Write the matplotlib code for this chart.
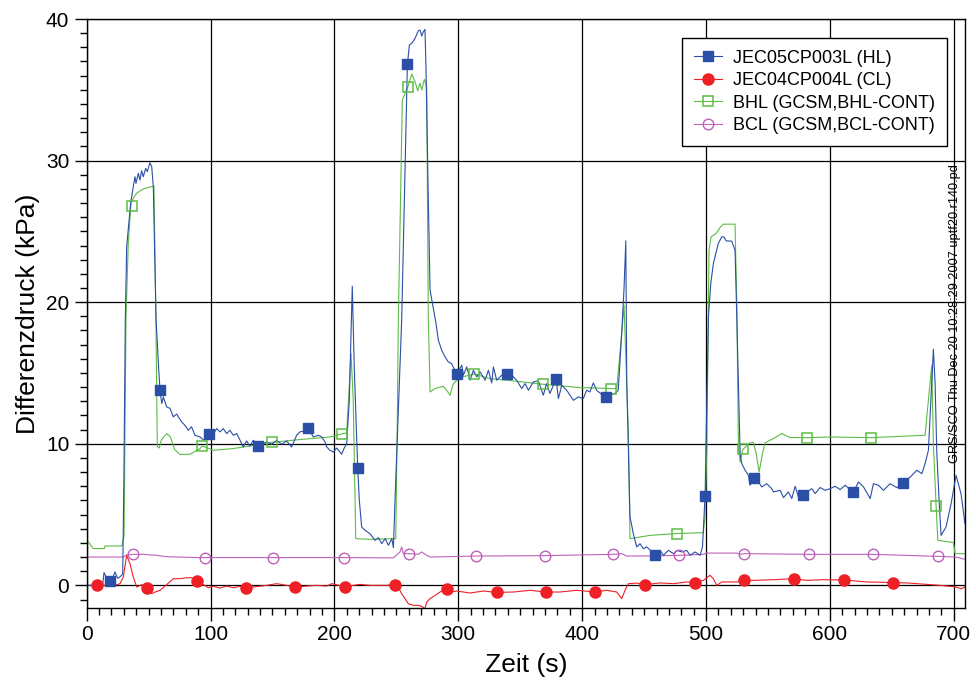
import matplotlib
matplotlib.use("Agg")
import matplotlib.pyplot as plt
from matplotlib.lines import Line2D
from matplotlib.ticker import MultipleLocator

plt.rcParams['font.family'] = ['Liberation Sans', 'DejaVu Sans']

# JEC05CP003L (HL) - blue
hl_t = [0, 12.9, 14.0, 16.6, 18.8, 21.0, 22.8, 25.0, 26.9, 29.1, 30.1, 31.2, 32.3, 35.5, 37.6, 39.0,
        39.8, 41.7, 43.0, 44.4, 45.7, 47.6, 48.9, 51.1, 52.5, 53.8, 54.6, 56.0, 58.0, 59.2, 60.6, 61.9,
        64.6, 67.3, 69.9, 72.6, 76.7, 79.4, 82.0, 84.7, 87.4, 91.5, 94.7, 96.5, 98.7, 101.5, 105.0,
        107.6, 110.3, 113.0, 115.7, 118.4, 121.1, 123.8, 126.4, 129.1, 131.8, 134.5, 138.5, 142.6,
        145.3, 149.3, 153.4, 157.4, 161.4, 165.5, 169.5, 172.2, 175.5, 178.9, 183.0, 187.0, 189.5,
        192.4, 193.8, 196.4, 199.1, 201.8, 204.5, 205.8, 207.7, 209.9, 212.0, 214.4, 216.0, 218.8,
        220.1, 222.0, 224.7, 228.7, 232.8, 235.5, 238.2, 240.9, 243.6, 246.3, 247.6, 248.9, 254.3,
        258.9, 260.5, 262.4, 265.1, 267.7, 269.1, 270.5, 271.8, 273.1, 273.9, 275.8, 277.2, 282.0,
        283.9, 286.6, 289.3, 291.9, 294.6, 296.5, 298.7, 302.8, 304.1, 306.8, 309.5, 312.2, 314.9,
        317.5, 321.6, 324.3, 327.0, 328.3, 331.0, 335.0, 339.1, 343.1, 347.1, 351.2, 353.9, 356.6,
        360.6, 364.6, 368.6, 371.3, 374.0, 378.9, 380.8, 383.5, 387.5, 390.2, 392.9, 396.9, 400.9,
        403.6, 406.3, 409.0, 411.7, 415.5, 419.0, 422.4, 426.4, 429.1, 431.9, 433.8, 435.2, 436.0,
        438.6, 441.3, 444.0, 446.7, 449.4, 452.1, 455.5, 458.8, 462.9, 465.6, 469.6, 473.7, 476.4,
        480.4, 484.4, 487.1, 491.2, 495.2, 497.1, 499.2, 501.9, 503.8, 505.9, 509.9, 512.7, 514.5,
        516.2, 520.7, 523.4, 524.8, 527.5, 528.8, 531.5, 534.2, 535.5, 539.0, 542.3, 545.0, 549.0,
        553.0, 554.4, 559.8, 562.5, 566.5, 569.2, 571.9, 574.6, 578.6, 581.3, 585.4, 588.1, 592.1,
        596.1, 600.2, 604.2, 608.2, 612.3, 618.9, 623.0, 627.1, 632.5, 635.1, 639.2, 643.2, 648.6,
        654.0, 659.3, 664.8, 670.2, 674.2, 676.8, 679.5, 680.8, 683.5, 684.9, 686.2, 688.1, 689.7,
        693.7, 697.8, 701.8, 705.8, 709.0]
hl_v = [0.0, 0.0, 0.9, 0.45, 0.3, 0.5, 0.95, 0.5, 0.6, 0.8, 8.0, 18.8, 23.9, 27.0, 28.15, 28.86,
        28.39, 29.1, 28.63, 29.29, 28.86, 29.45, 29.22, 29.85, 29.57, 28.15, 24.85, 18.8, 15.5, 13.8,
        12.84, 13.3, 12.6, 12.5, 11.9, 12.1, 11.54, 11.3, 10.95, 11.2, 10.6, 10.48, 10.25, 10.6, 10.7,
        10.6, 11.07, 10.84, 11.07, 10.72, 10.95, 10.6, 10.72, 10.25, 9.77, 10.2, 9.82, 10.25, 9.86,
        10.01, 10.13, 9.96, 10.25, 9.96, 10.2, 9.77, 10.6, 10.84, 10.9, 11.1, 10.48, 10.6, 10.5,
        10.13, 9.77, 9.54, 9.42, 9.7, 9.42, 9.26, 9.66, 10.01, 13.07, 21.13, 15.43, 8.26,
        6.0, 4.12, 3.89, 3.65, 3.18, 3.37, 2.94, 3.3, 2.83, 3.3, 2.66, 6.0, 18.75,
        36.8, 38.16, 38.28, 38.64, 39.17, 39.22, 38.8, 39.1, 39.27, 36.63, 27.2, 20.85, 18.5,
        17.31, 16.61, 16.13, 15.78, 15.66, 15.31, 14.93, 15.55, 14.84, 15.43, 14.49, 15.19, 14.72,
        15.08, 14.49, 15.19, 14.3, 15.43, 14.49, 14.84, 14.93, 14.84, 14.49, 13.9, 14.25, 13.78,
        14.37, 14.44, 13.43, 14.25, 13.55, 14.6, 13.19, 14.13, 13.78, 13.43, 13.07, 13.31, 13.19,
        13.78, 13.66, 14.3, 13.78, 13.5, 13.31, 13.43, 13.55, 13.78, 17.79, 21.0, 24.33, 14.25,
        4.83, 3.65, 2.71, 2.94, 2.59, 2.71, 2.45, 2.17, 2.47, 2.12, 2.47, 2.24, 2.47,
        2.36, 2.47, 2.12, 2.36, 2.12, 2.71, 6.3, 18.96, 21.32, 22.73, 24.15, 24.62, 24.6,
        24.33, 24.31, 23.67, 18.96, 9.31, 8.6, 8.13, 7.77, 7.07, 7.55, 7.3, 6.95, 7.18,
        6.83, 6.6, 6.71, 6.2, 6.6, 6.13, 7.0, 6.24, 6.37, 6.6, 6.83, 6.48, 6.91,
        6.71, 6.83, 7.0, 6.76, 7.07, 6.58, 7.3, 6.95, 6.13, 7.18, 7.07, 6.71, 7.18,
        6.9, 7.24, 7.65, 8.13, 7.89, 8.6, 9.54, 11.9, 16.68, 14.25, 9.54, 6.0, 3.53,
        4.12, 5.77, 7.77, 6.48, 4.36]
hl_mx = [18.8, 59.2, 98.7, 138.5, 178.9, 218.8, 258.9, 298.7, 339.1, 378.9, 419.0, 458.8, 499.2,
         539.0, 578.6, 618.9, 659.3]
hl_my = [0.3, 13.8, 10.7, 9.86, 11.1, 8.26, 36.8, 14.93, 14.93, 14.6, 13.31, 2.17, 6.3, 7.55,
         6.37, 6.58, 7.24]

# JEC04CP004L (CL) - red
cl_t = [0, 8.6, 22.8, 26.9, 29.6, 32.3, 35.0, 37.6, 40.4, 44.4, 48.4, 52.5, 55.2, 59.2, 64.6, 69.9,
        75.3, 80.6, 84.7, 88.8, 91.5, 95.5, 98.2, 102.2, 107.6, 113.0, 118.4, 123.8, 128.6, 134.5,
        145.3, 153.4, 161.4, 168.4, 177.6, 185.6, 193.8, 197.8, 208.5, 215.2, 220.6, 228.7, 242.2,
        248.9, 251.6, 254.3, 257.0, 259.7, 263.7, 267.7, 270.4, 273.1, 274.5, 277.2, 281.2, 285.2,
        287.9, 290.9, 294.6, 298.7, 309.5, 320.2, 331.0, 344.5, 357.9, 370.8, 382.1, 395.6, 410.6,
        419.8, 427.9, 431.9, 434.6, 437.3, 444.0, 450.8, 462.9, 473.7, 484.4, 491.1, 497.8, 503.2,
        505.9, 508.6, 512.7, 519.4, 524.8, 530.9, 538.2, 554.4, 570.8, 581.3, 594.8, 611.2, 629.8,
        651.2, 662.1, 689.0, 701.8, 705.8, 709.0]
cl_v = [0.0, 0.0, 0.0, 0.12, 0.59, 2.12, 1.53, 0.59, -0.12, 0.05, -0.2, -0.59, -0.47, -0.35, 0.05,
        0.47, 0.47, 0.54, 0.54, 0.28, 0.12, 0.0, -0.17, -0.07, -0.19, -0.05, -0.17, -0.07, -0.2,
        -0.12, 0.0, 0.12, 0.0, -0.15, -0.05, 0.0, -0.05, 0.12, -0.1, 0.0, 0.07, 0.0, 0.0,
        0.05, -0.17, -0.59, -0.94, -1.3, -1.41, -1.41, -1.48, -1.65, -1.18, -0.94, -0.71, -0.47,
        -0.35, -0.24, -0.47, -0.4, -0.54, -0.4, -0.5, -0.47, -0.35, -0.47, -0.47, -0.35, -0.47,
        -0.35, -0.47, -0.94, -0.35, 0.12, 0.16, 0.05, 0.17, 0.12, 0.24, 0.2, 0.35, 0.71,
        0.47, 0.0, 0.24, 0.24, 0.24, 0.35, 0.35, 0.4, 0.47, 0.35, 0.4, 0.38, 0.24,
        0.2, 0.17, 0.0, -0.12, -0.24, -0.12]
cl_mx = [8.6, 48.4, 88.8, 128.6, 168.4, 208.5, 248.9, 290.9, 331.0, 370.8, 410.6, 450.8, 491.1,
         530.9, 570.8, 611.2, 651.2]
cl_my = [0.0, -0.2, 0.28, -0.2, -0.15, -0.1, 0.05, -0.24, -0.5, -0.47, -0.47, 0.05, 0.2, 0.35,
         0.47, 0.38, 0.2]

# BHL (GCSM,BHL-CONT) - green
bhl_t = [0, 5.3, 14.2, 14.8, 28.3, 30.2, 31.7, 33.6, 35.8, 38.0, 40.4, 45.7, 54.3, 55.9, 57.0,
         58.5, 60.5, 64.6, 67.5, 71.0, 75.3, 83.4, 91.5, 93.3, 102.2, 118.4, 134.5, 149.4, 172.2,
         196.4, 206.4, 209.9, 213.4, 215.2, 217.2, 228.7, 249.5, 250.8, 251.6, 254.8, 259.2, 261.0,
         262.4, 265.1, 267.2, 269.1, 270.5, 272.6, 274.5, 275.8, 277.2, 281.2, 287.9, 290.6, 293.3,
         296.0, 301.4, 313.0, 325.6, 339.1, 368.6, 398.3, 423.3, 427.9, 431.9, 433.8, 437.3, 438.6,
         454.8, 476.6, 497.8, 499.2, 500.6, 502.4, 504.0, 508.6, 511.3, 514.0, 523.4, 524.8, 526.1,
         527.5, 529.6, 535.5, 538.2, 540.5, 542.8, 545.5, 547.6, 554.3, 561.1, 567.8, 581.3, 600.1,
         633.2, 676.8, 678.2, 682.2, 683.5, 685.7, 687.1, 699.7, 701.0, 709.0]
bhl_v = [3.23, 2.6, 2.6, 2.78, 2.78, 3.5, 18.8, 24.2, 27.0, 27.4, 27.7, 28.0, 28.2, 18.8, 9.8,
         9.7, 10.3, 10.72, 10.5, 9.6, 9.24, 9.26, 9.66, 9.85, 9.54, 9.66, 9.89, 10.1, 10.3,
         10.48, 10.7, 10.77, 16.37, 13.07, 3.3, 3.25, 3.3, 12.0, 18.75, 34.28, 35.2, 35.69,
         36.11, 35.57, 34.93, 35.46, 34.98, 35.74, 35.22, 18.73, 13.66, 13.9, 14.06, 13.78, 13.43,
         14.25, 14.68, 14.93, 14.6, 14.49, 14.2, 13.97, 13.9, 13.9, 17.79, 19.79, 10.72, 3.3,
         3.53, 3.66, 3.72, 5.0, 9.54, 23.67, 24.6, 24.9, 25.28, 25.51, 25.51, 19.9, 10.0,
         8.71, 9.6, 10.06, 10.1, 9.3, 8.0, 9.3, 10.06, 10.37, 10.72, 10.44, 10.43, 10.48,
         10.43, 10.6, 11.9, 15.55, 10.0, 5.6, 3.18, 3.02, 2.24, 2.24]
bhl_mx = [36.3, 93.3, 149.4, 206.4, 259.2, 313.0, 368.6, 423.3, 476.6, 529.6, 581.3, 633.2, 685.7]
bhl_my = [26.8, 9.85, 10.1, 10.7, 35.2, 14.93, 14.2, 13.9, 3.66, 9.6, 10.43, 10.43, 5.6]

# BCL (GCSM,BCL-CONT) - purple
bcl_t = [0, 29.6, 32.3, 37.6, 45.7, 56.5, 64.6, 91.5, 150.7, 208.0, 247.6, 252.9, 254.3, 255.6,
         260.5, 267.7, 270.4, 274.5, 277.2, 314.6, 370.3, 424.9, 431.9, 436.0, 454.8, 478.2, 497.8,
         500.6, 524.8, 527.5, 531.0, 583.2, 635.1, 687.1, 701.8, 709.0]
bcl_v = [2.0, 2.0, 2.15, 2.19, 2.19, 2.12, 2.02, 1.96, 1.96, 1.96, 1.94, 2.36, 2.71, 2.24,
         2.24, 2.19, 2.36, 2.12, 2.0, 2.07, 2.1, 2.19, 2.24, 2.07, 2.08, 2.12, 2.19,
         2.28, 2.28, 2.19, 2.24, 2.19, 2.19, 2.05, 2.0, 1.84]
bcl_mx = [37.6, 95.5, 150.7, 208.0, 260.5, 314.6, 370.3, 424.9, 478.2, 531.0, 583.2, 635.1, 687.1]
bcl_my = [2.19, 1.96, 1.96, 1.96, 2.24, 2.07, 2.1, 2.19, 2.12, 2.24, 2.19, 2.19, 2.05]

labels = ['JEC05CP003L (HL)', 'JEC04CP004L (CL)', 'BHL (GCSM,BHL-CONT)', 'BCL (GCSM,BCL-CONT)']
stamp = 'GRS/SCO Thu Dec 20 10:28:29 2007 uptf20.r140.pd'

blue = '#2B4FA6'
red = '#EE2026'
green = '#5CBC45'
purple = '#C060B8'

fig = plt.figure(figsize=(9.76, 6.91), dpi=100)
ax = fig.add_axes([0.0888, 0.1201, 0.8999, 0.8524])

# lines
ax.plot(bcl_t, bcl_v, color=purple, lw=0.8)
ax.plot(cl_t, cl_v, color=red, lw=0.8)
ax.plot(bhl_t, bhl_v, color=green, lw=0.8)
ax.plot(hl_t, hl_v, color=blue, lw=0.8)

# markers
ax.plot(bcl_mx, bcl_my, ls='none', marker='o', ms=7.6, mfc='none', mec=purple, mew=1)
ax.plot(cl_mx, cl_my, ls='none', marker='o', ms=8, color=red)
ax.plot(bhl_mx, bhl_my, ls='none', marker='s', ms=6.6, mfc='none', mec=green, mew=1.1)
ax.plot(hl_mx, hl_my, ls='none', marker='s', ms=6.8, color=blue)

ax.set_xlim(0, 709)
ax.set_ylim(-1.6, 40)
ax.xaxis.set_major_locator(MultipleLocator(100))
ax.xaxis.set_minor_locator(MultipleLocator(10))
ax.yaxis.set_major_locator(MultipleLocator(10))
ax.yaxis.set_minor_locator(MultipleLocator(1))
ax.tick_params(which='major', direction='out', length=9, width=1, labelsize=15, colors='black')
ax.tick_params(which='minor', direction='out', length=5, width=1)
ax.grid(True, which='major', color='black', lw=0.9)
ax.set_axisbelow(True)
for s in ax.spines.values():
    s.set_linewidth(1)

ax.set_xlabel('Zeit (s)', fontsize=19, labelpad=6)
ax.set_ylabel('Differenzdruck (kPa)', fontsize=19, labelpad=4)

ax.text(0.989, 0.246, stamp, transform=ax.transAxes, rotation=90, ha='center', va='bottom',
        fontsize=9.2)

handles = [
    Line2D([], [], color=blue, lw=0.8, marker='s', ms=6.8),
    Line2D([], [], color=red, lw=0.8, marker='o', ms=8),
    Line2D([], [], color=green, lw=0.8, marker='s', ms=6.6, mfc='none', mec=green, mew=1.1),
    Line2D([], [], color=purple, lw=0.8, marker='o', ms=7.6, mfc='none', mec=purple, mew=1),
]
leg = ax.legend(handles, labels, loc='upper right', bbox_to_anchor=(0.9795, 0.9677),
                borderaxespad=0, fontsize=13, frameon=True, fancybox=False, framealpha=1,
                edgecolor='black', handlelength=1.6, handletextpad=0.6, labelspacing=0.3,
                borderpad=0.65)
leg.get_frame().set_linewidth(1)

fig.savefig('out.png', dpi=100)
